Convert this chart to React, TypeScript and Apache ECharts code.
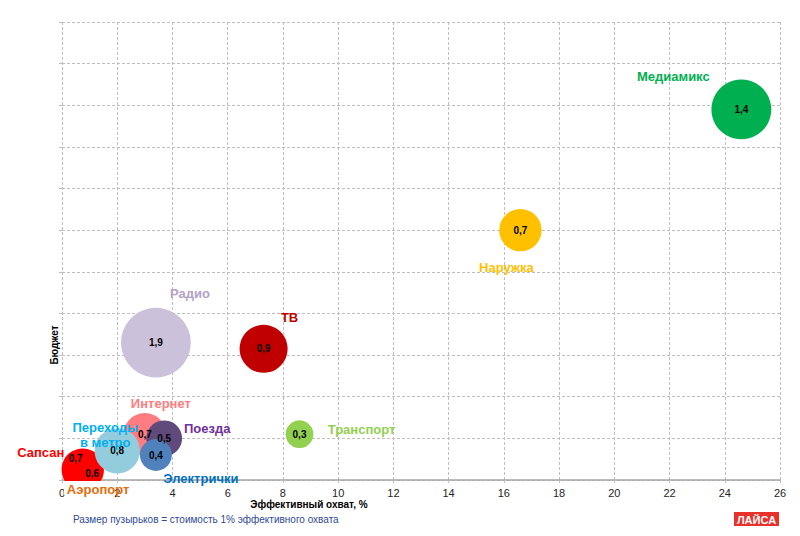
import React, { useEffect, useRef } from "react";
import * as echarts from "echarts";

// Media channels: effective reach (%), budget (relative units), cost of 1% effective reach
const channels = [
  "Аэропорт",
  "Сапсан",
  "Интернет",
  "Переходы в метро",
  "Поезда",
  "Электрички",
  "Транспорт",
  "ТВ",
  "Радио",
  "Наружка",
  "Медиамикс",
];
const reach = [0.8, 0.75, 3.0, 2.0, 3.7, 3.4, 8.6, 7.3, 3.4, 16.6, 24.6];
const budget = [0.2, 0.25, 1.1, 0.7, 1.0, 0.6, 1.1, 3.15, 3.3, 6.0, 8.9];
const costPerPoint = [0.6, 0.7, 0.7, 0.8, 0.5, 0.4, 0.3, 0.9, 1.9, 0.7, 1.4];

const xTicks = { min: 0, max: 26, step: 2 };
const yTicks = { min: 0, max: 11, step: 1 };

const xAxisTitle = "Эффективный охват, %";
const yAxisTitle = "Бюджет";
const footnote = "Размер пузырьков = стоимость 1% эффективного охвата";
const brand = "ЛАЙСА";

// Per-channel look: bubble fill, caption colour, caption and value-label offsets (px)
const look: Record<string, { fill: string; text: string; nameOffset: number[]; valueOffset?: number[] }> = {
  "Аэропорт": { fill: "#F79646", text: "#E46C0A", nameOffset: [14, 18], valueOffset: [8, 2] },
  "Сапсан": { fill: "#FF0000", text: "#FF0000", nameOffset: [-42, -17], valueOffset: [-7, -11] },
  "Интернет": { fill: "#FF7C80", text: "#FF7C80", nameOffset: [16, -31] },
  "Переходы в метро": { fill: "#93CDDD", text: "#00B0F0", nameOffset: [-12, -16] },
  "Поезда": { fill: "#604A7B", text: "#7030A0", nameOffset: [43, -10] },
  "Электрички": { fill: "#4F81BD", text: "#0070C0", nameOffset: [45, 23] },
  "Транспорт": { fill: "#92D050", text: "#92D050", nameOffset: [62, -5] },
  "ТВ": { fill: "#C00000", text: "#C00000", nameOffset: [26, -31] },
  "Радио": { fill: "#CCC1DA", text: "#B3A2C7", nameOffset: [34, -49] },
  "Наружка": { fill: "#FFC000", text: "#FFC000", nameOffset: [-14, 37] },
  "Медиамикс": { fill: "#00B050", text: "#00B050", nameOffset: [-68, -33] },
};

const FONT = "'Liberation Sans', Arial, sans-serif";
const GRID = "#BFBFBF";

export default function App() {
  const ref = useRef<HTMLDivElement>(null);

  useEffect(() => {
    if (!ref.current) return;
    const chart = echarts.init(ref.current, null, { renderer: "svg" });

    const bubbles = channels.map((name, i) => ({
      name,
      value: [reach[i], budget[i], costPerPoint[i]],
      itemStyle: { color: look[name].fill, opacity: 1 },
      label: look[name].valueOffset ? { offset: look[name].valueOffset } : undefined,
    }));

    const captions = channels.map((name, i) => ({
      name,
      value: [reach[i], budget[i]],
      label: { color: look[name].text, offset: look[name].nameOffset },
    }));

    chart.setOption({
      animation: false,
      backgroundColor: "#ffffff",
      textStyle: { fontFamily: FONT },
      grid: { left: 62, right: 20, top: 22, bottom: 56, containLabel: false },
      xAxis: {
        type: "value",
        min: xTicks.min,
        max: xTicks.max,
        interval: xTicks.step,
        axisLine: { show: true, lineStyle: { color: "#A6A6A6", width: 1.5 } },
        axisTick: { show: true, length: 5, lineStyle: { color: GRID, type: [3, 2] } },
        axisLabel: { color: "#262626", fontSize: 11, margin: 7, fontFamily: FONT },
        splitLine: { show: true, lineStyle: { color: GRID, type: [3, 2], width: 1 } },
      },
      yAxis: {
        type: "value",
        min: yTicks.min,
        max: yTicks.max,
        interval: yTicks.step,
        axisLine: { show: false },
        axisTick: { show: true, length: 5, lineStyle: { color: GRID, type: [3, 2] } },
        axisLabel: { show: false },
        splitLine: { show: true, lineStyle: { color: GRID, type: [3, 2], width: 1 } },
      },
      graphic: [
        // keeps the bubbles from spilling below the horizontal axis
        {
          type: "rect",
          z: 3,
          shape: { x: 64, y: 481, width: 42, height: 14 },
          style: { fill: "#ffffff" },
        },
        {
          type: "text",
          x: 309,
          y: 504,
          z: 5,
          style: {
            text: xAxisTitle,
            font: `bold 10px ${FONT}`,
            fill: "#000000",
            textAlign: "center",
            textVerticalAlign: "middle",
          },
        },
        {
          type: "text",
          x: 54,
          y: 345,
          rotation: Math.PI / 2,
          z: 5,
          style: {
            text: yAxisTitle,
            font: `bold 10px ${FONT}`,
            fill: "#000000",
            textAlign: "center",
            textVerticalAlign: "middle",
          },
        },
        {
          type: "text",
          x: 73,
          y: 519,
          z: 5,
          style: {
            text: footnote,
            font: `10px ${FONT}`,
            fill: "#2E4A94",
            textAlign: "left",
            textVerticalAlign: "middle",
          },
        },
        {
          type: "rect",
          z: 5,
          shape: { x: 734, y: 512, width: 45, height: 14 },
          style: { fill: "#E8312A" },
        },
        {
          type: "text",
          x: 756.5,
          y: 519.5,
          z: 6,
          style: {
            text: brand,
            font: `bold 11px ${FONT}`,
            fill: "#ffffff",
            textAlign: "center",
            textVerticalAlign: "middle",
          },
        },
      ],
      series: [
        {
          name: "bubbles",
          type: "scatter",
          z: 2,
          data: bubbles,
          symbolSize: (v: number[]) => 50.6 * Math.sqrt(v[2]),
          itemStyle: { opacity: 1 },
          label: {
            show: true,
            position: "inside",
            color: "#000000",
            fontSize: 10,
            fontWeight: "bold",
            fontFamily: FONT,
            formatter: (p: any) => String(p.value[2]).replace(".", ","),
          },
          emphasis: { disabled: true },
        },
        {
          name: "captions",
          type: "scatter",
          z: 4,
          data: captions,
          symbolSize: 0,
          itemStyle: { opacity: 1 },
          label: {
            show: true,
            position: "inside",
            fontSize: 13,
            fontWeight: "bold",
            fontFamily: FONT,
            lineHeight: 15,
            align: "center",
            opacity: 1,
            formatter: (p: any) => p.name.replace(" в ", "\nв "),
          },
          emphasis: { disabled: true },
        },
      ],
    });

    return () => chart.dispose();
  }, []);

  return (
    <div
      ref={ref}
      style={{ position: "fixed", left: 0, top: 0, width: 800, height: 536, background: "#fff" }}
    />
  );
}
